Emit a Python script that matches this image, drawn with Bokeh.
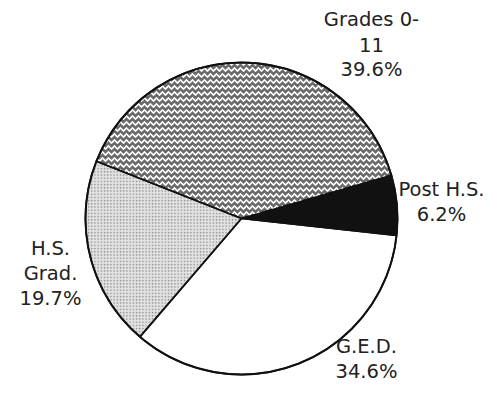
import math
from bokeh.plotting import figure
from bokeh.models import ColumnDataSource, Range1d
from bokeh.core.properties import value
from bokeh.embed import file_html
from bokeh.resources import INLINE

# ---- data (counter-clockwise order, starting just below the 3 o'clock position)
categories = ["Post H.S.", "Grades 0-11", "H.S. Grad.", "G.E.D."]
label_lines = [["Post H.S."], ["Grades 0-", "11"], ["H.S.", "Grad."], ["G.E.D."]]
percents = [6.2, 39.6, 19.7, 34.6]

# ---- styles
fills = ["#111111", "#6a6a6a", "#e2e2e2", "#ffffff"]
hatches = [" ", "horizontal_wave", "dot", " "]
hatch_colors = ["#111111", "#ffffff", "#8f8f8f", "#ffffff"]
hatch_scales = [8, 6, 3.2, 8]
hatch_weights = [1, 1.7, 1.3, 1]

# layout (pixels, frame coords with y up)
W, H = 485, 385
CX, CY = 241, 167
R = 156
START_DEG = -6.2
FONT = "DejaVu Sans"
FSIZE = "19.5px"
LINE_STEP = 25
# label first-line vertical middles, measured from top (x centre, y middle)
label_pos = [(441, 189), (371, 19), (50, 248), (366, 346)]

total = sum(percents)
starts, ends = [], []
a = math.radians(START_DEG)
for v in percents:
    starts.append(a)
    a += v / total * 2 * math.pi
    ends.append(a)

src = ColumnDataSource(dict(
    cat=categories, start=starts, end=ends, fill=fills, hatch=hatches,
    hcolor=hatch_colors, hscale=hatch_scales, hweight=hatch_weights,
    x=[CX] * len(categories), y=[CY] * len(categories),
))

p = figure(width=W, height=H, x_range=Range1d(0, W), y_range=Range1d(0, H),
           output_backend="svg", toolbar_location=None,
           x_axis_location=None, y_axis_location=None, min_border=0)
p.grid.visible = False
p.outline_line_color = None
p.background_fill_color = "white"
p.border_fill_color = "white"

# solid fills
p.wedge(x="x", y="y", radius=R, start_angle="start", end_angle="end",
        fill_color="fill", line_color=None, source=src)
# texture overlay
p.wedge(x="x", y="y", radius=R, start_angle="start", end_angle="end",
        fill_color=None, hatch_pattern="hatch", hatch_color="hcolor",
        hatch_scale="hscale", hatch_weight="hweight",
        line_color="#111111", line_width=1.6, source=src)
# outer rim
p.circle(x=[CX], y=[CY], radius=R, fill_color=None, line_color="#111111", line_width=2)

tx, ty, tt = [], [], []
for lines, v, (lx, ly) in zip(label_lines, percents, label_pos):
    all_lines = lines + [f"{v:.1f}%"]
    for i, s in enumerate(all_lines):
        tx.append(lx)
        ty.append(H - (ly + i * LINE_STEP))
        tt.append(s)

p.text(x=tx, y=ty, text=tt, text_align="center", text_baseline="middle",
       text_font=value(FONT), text_font_size=value(FSIZE), text_color="#222222")

open("out.html", "w").write(file_html(p, INLINE))
